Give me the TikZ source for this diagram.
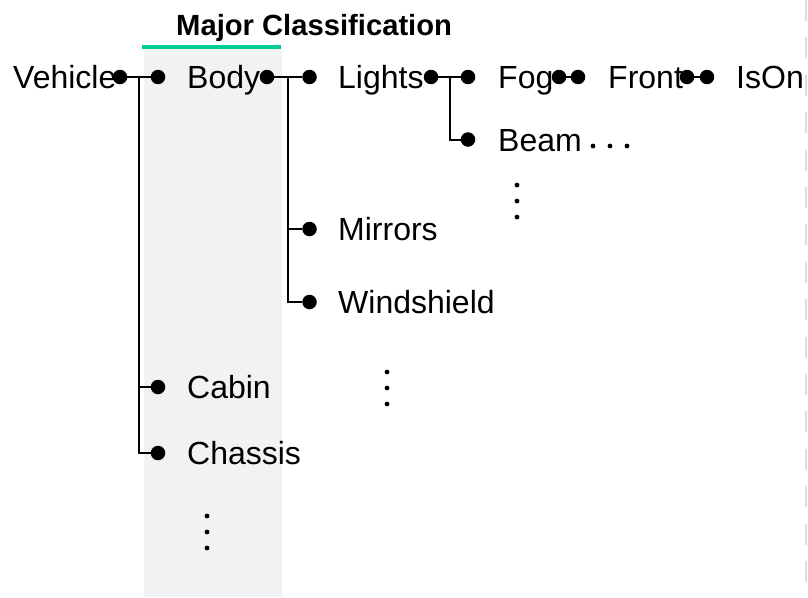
\documentclass[tikz,border=0pt]{standalone}
\usepackage{fontspec}
\setmainfont{Liberation Sans}
\definecolor{mint}{RGB}{0,204,150}
\definecolor{panel}{RGB}{242,242,242}
\definecolor{rule}{RGB}{222,222,222}
\begin{document}
\begin{tikzpicture}[x=1pt,y=-1pt,
  dotnode/.style={circle,fill=black,minimum size=14.5pt,inner sep=0pt},
  lbl/.style={anchor=base west,inner sep=0pt,font=\fontsize{32}{38}\selectfont},
  edge/.style={line width=2pt},
  small/.style={circle,fill=black,minimum size=4.8pt,inner sep=0pt}]
\useasboundingbox (0,0) rectangle (808,597);
% panel and title
\fill[panel] (144,49) rectangle (282,597);
\draw[mint,line width=4pt] (142,47) -- (281,47);
\node[anchor=base west,inner sep=0pt,font=\fontsize{29.2}{35}\selectfont\bfseries] (title) at (176,35) {Major Classification};
\draw[rule,line width=2pt,dash pattern=on 21pt off 16.4pt] (805.5,0) -- (805.5,597);
% labels
\node[lbl] (veh) at (13,88.5) {Vehicle};
\node[lbl] (body) at (187,88.5) {Body};
\node[lbl] (lights) at (338,88.5) {Lights};
\node[lbl] (fog) at (498,88.5) {Fog};
\node[lbl] (front) at (608,88.5) {Front};
\node[lbl] (ison) at (736,88.5) {IsOn};
\node[lbl] (beam) at (498,151) {Beam};
\node[lbl] (mirrors) at (338,240.5) {Mirrors};
\node[lbl] (wind) at (338,313.5) {Windshield};
\node[lbl] (cabin) at (187,398.5) {Cabin};
\node[lbl] (chassis) at (187,464.5) {Chassis};
% dots
\node[dotnode] (vR) at (120,77) {};
\node[dotnode] (bL) at (158,77) {};
\node[dotnode] (bR) at (267,77) {};
\node[dotnode] (lL) at (309.5,77) {};
\node[dotnode] (lR) at (431,77) {};
\node[dotnode] (fL) at (468,77) {};
\node[dotnode] (fR) at (559,77) {};
\node[dotnode] (frL) at (578,77) {};
\node[dotnode] (frR) at (687,77) {};
\node[dotnode] (iL) at (707,77) {};
\node[dotnode] (beL) at (468,139.5) {};
\node[dotnode] (mL) at (309.5,229) {};
\node[dotnode] (wL) at (309.5,302) {};
\node[dotnode] (cL) at (158,387) {};
\node[dotnode] (chL) at (158,453) {};
% trunks
\coordinate (t1) at (139,77);
\coordinate (t2) at (288,77);
\coordinate (t3) at (450,77);
% connectors
\draw[edge] (vR) -- (bL);
\draw[edge] (t1) |- (cL);
\draw[edge] (t1) |- (chL);
\draw[edge] (bR) -- (lL);
\draw[edge] (t2) |- (mL);
\draw[edge] (t2) |- (wL);
\draw[edge] (lR) -- (fL);
\draw[edge] (t3) |- (beL);
\draw[edge] (fR) -- (frL);
\draw[edge] (frR) -- (iL);
% ellipses
\node[small] (h1) at (593,146) {};
\node[small] (h2) at (610,146) {};
\node[small] (h3) at (627,146) {};
\node[small] (a1) at (517,185) {};
\node[small] (a2) at (517,201) {};
\node[small] (a3) at (517,217) {};
\node[small] (b1) at (387,372) {};
\node[small] (b2) at (387,388) {};
\node[small] (b3) at (387,404) {};
\node[small] (c1) at (207,516) {};
\node[small] (c2) at (207,532) {};
\node[small] (c3) at (207,548) {};
\end{tikzpicture}
\end{document}
